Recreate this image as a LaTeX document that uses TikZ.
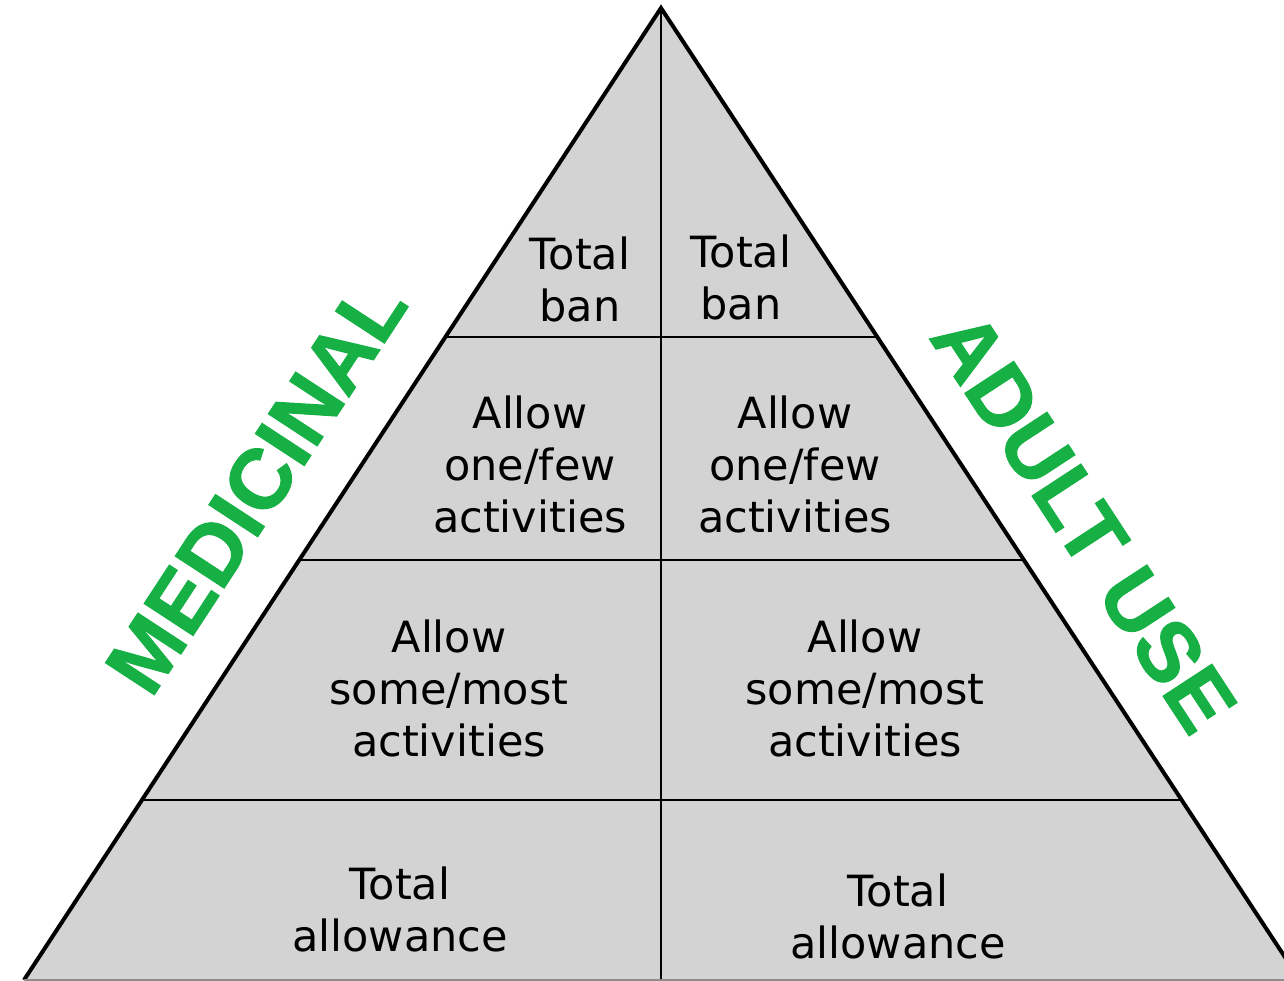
\documentclass[tikz,border=0pt]{standalone}
\usepackage{fontspec}
\setmainfont{DejaVu Sans}
\newfontfamily\labelfont[BoldFeatures={FakeBold=1.2}]{Liberation Sans}
\usetikzlibrary{calc}
\definecolor{pyrfill}{HTML}{D3D3D3}
\definecolor{pyrgreen}{HTML}{16B045}
\begin{document}
\begin{tikzpicture}[x=1pt,y=-1pt,
  cell/.style={align=center,font=\fontsize{43}{52}\selectfont,inner sep=0pt},
  sidelabel/.style={font=\labelfont\bfseries\fontsize{85}{90}\selectfont,text=pyrgreen,inner sep=0pt},
  outline/.style={line width=4pt,line join=miter},
  divider/.style={line width=2.8pt}]
\useasboundingbox (0,0) rectangle (1284,980);
\begin{scope}
\clip (0,0) rectangle (1284,980);
\coordinate (apex) at (661,8);
\coordinate (bl) at (24,980);
\coordinate (br) at (1300,980);
\coordinate (bm) at (661,980);
\coordinate (l1) at ($(apex)!0.3385!(bl)$);
\coordinate (r1) at ($(apex)!0.3385!(br)$);
\coordinate (l2) at ($(apex)!0.5679!(bl)$);
\coordinate (r2) at ($(apex)!0.5679!(br)$);
\coordinate (l3) at ($(apex)!0.8148!(bl)$);
\coordinate (r3) at ($(apex)!0.8148!(br)$);
\fill[pyrfill] (apex) -- (bl) -- (br) -- cycle;
\draw[divider] (l1) -- (r1);
\draw[divider] (l2) -- (r2);
\draw[divider] (l3) -- (r3);
\draw[divider] (apex) -- (bm);
\draw[outline] (bl) -- (apex) -- (br);
\draw[line width=2pt,black!45] (bl) -- (br);
\end{scope}
\node[cell] (lban) at (580,279) {Total\\ban};
\node[cell] (rban) at (741,277) {Total\\ban};
\node[cell] (lfew) at (530,464) {Allow\\one/few\\activities};
\node[cell] (rfew) at (795,464) {Allow\\one/few\\activities};
\node[cell] (lmost) at (449,688) {Allow\\some/most\\activities};
\node[cell] (rmost) at (865,688) {Allow\\some/most\\activities};
\node[cell] (lall) at (400,909) {Total\\allowance};
\node[cell] (rall) at (898,916) {Total\\allowance};
\node[sidelabel,rotate=56.8] (med) at (256,486) {MEDICINAL};
\node[sidelabel,rotate=-56.8] (adult) at (1084,522) {ADULT USE};
\end{tikzpicture}
\end{document}
